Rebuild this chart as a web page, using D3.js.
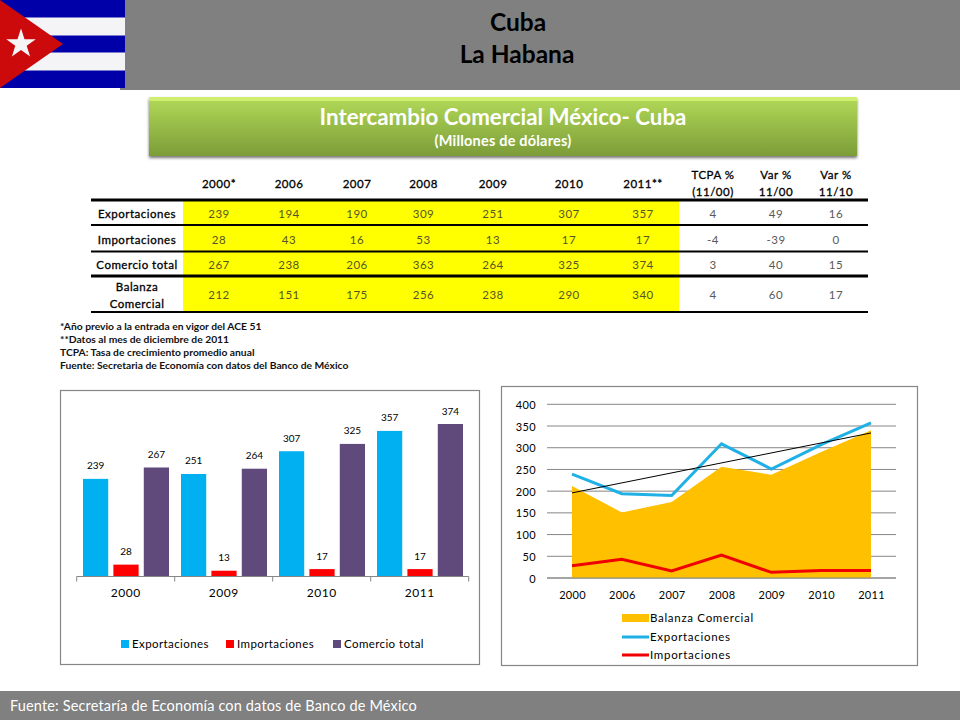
<!DOCTYPE html>
<html><head><meta charset="utf-8">
<script src="https://cdnjs.cloudflare.com/ajax/libs/d3/7.8.5/d3.min.js"></script>
<style>html,body{margin:0;padding:0;background:#fff}svg{display:block}text{font-family:Lato,"Open Sans",sans-serif}</style>
</head><body><svg id="c" width="960" height="720"></svg>
<script>
const tableHeaders = ["2000*","2006","2007","2008","2009","2010","2011**"];
const rowLabels = ["Exportaciones","Importaciones","Comercio total","Balanza|Comercial"];
const exportaciones = [239,194,190,309,251,307,357];
const importaciones = [28,43,16,53,13,17,17];
const comercioTotal = [267,238,206,363,264,325,374];
const balanza = [212,151,175,256,238,290,340];
const tcpa = [4,-4,3,4];
const var1100 = [49,-39,40,60];
const var1110 = [16,0,15,17];
const notes = ["*Año previo a la entrada en vigor del  ACE 51","**Datos  al mes de diciembre de 2011","TCPA: Tasa de crecimiento promedio anual","Fuente: Secretaria de Economía con datos del Banco de México"];
const barYears = ["2000","2009","2010","2011"];
const barExport = [239,251,307,357];
const barImport = [28,13,17,17];
const barTotal = [267,264,325,374];
const barSeries = ["Exportaciones","Importaciones","Comercio total"];
const lineYears = ["2000","2006","2007","2008","2009","2010","2011"];
const trendEnds = [196,334];
const yTicks = [0,50,100,150,200,250,300,350,400];

const svg = d3.select("#c");
const defs = svg.append("defs");
const g1 = defs.append("linearGradient").attr("id","gb").attr("x1",0).attr("x2",0).attr("y1",0).attr("y2",1);
g1.append("stop").attr("offset",0).attr("stop-color","#b2da58");
g1.append("stop").attr("offset",1).attr("stop-color","#7c9c38");
const fl = defs.append("filter").attr("id","sh").attr("x","-5%").attr("y","-20%").attr("width","110%").attr("height","140%");
fl.append("feDropShadow").attr("dx",0).attr("dy",2).attr("stdDeviation",1.6).attr("flood-color","#000").attr("flood-opacity",0.55);

// header
svg.append("rect").attr("x",120).attr("y",0).attr("width",840).attr("height",90).attr("fill","#808080");
const flag = svg.append("g");
flag.append("rect").attr("width",125).attr("height",88).attr("fill","#0000a8");
[17.5,52.5].forEach(y=>flag.append("rect").attr("y",y).attr("width",125).attr("height",18).attr("fill","#f4f4f6"));
flag.append("path").attr("d","M0,0 L63,44 L0,88 Z").attr("fill","#cc0a0c");
const star = d3.range(10).map(i=>{const r=i%2?6:15.5,a=-Math.PI/2+i*Math.PI/5;return [21+r*Math.cos(a),44+r*Math.sin(a)];});
flag.append("polygon").attr("points",star.map(p=>p.join(",")).join(" ")).attr("fill","#f6f6f6");

function T(x,y,s,o={}){const t=svg.append("text").attr("x",x).attr("y",y).attr("dy",".35em").attr("text-anchor",o.a||"middle")
 .attr("font-size",o.s||11.5).attr("font-weight",o.w||400).attr("fill",o.c||"#000").attr("letter-spacing",o.l||0).text(s);
 if(o.st)t.attr("stroke",o.c||"#000").attr("stroke-width",o.st);return t;}
T(518,22,"Cuba",{s:24.5,w:700});
T(517,54,"La Habana",{s:24.5,w:700});

// green banner
svg.append("rect").attr("x",149).attr("y",97).attr("width",708).attr("height",59).attr("fill","url(#gb)").attr("filter","url(#sh)");
svg.append("rect").attr("x",149).attr("y",97).attr("width",708).attr("height",4).attr("fill","#d0ee70");
T(503,117,"Intercambio Comercial México- Cuba",{s:22.3,w:700,c:"#fff"});
T(503,141,"(Millones de dólares)",{s:14.5,w:700,c:"#fff",l:0.2});

// table
const colX = [219,289,357,423.5,493,569,643,713,776,836];
const rowY = [214,240,265,295];
svg.append("rect").attr("x",183).attr("y",201).attr("width",496).attr("height",110).attr("fill","#ffff00");
[[200,3],[225,2],[251.5,2],[276,3],[312,2]].forEach(r=>svg.append("line").attr("x1",91).attr("x2",868).attr("y1",r[0]).attr("y2",r[0]).attr("stroke","#000").attr("stroke-width",r[1]));
const H={s:11.5,l:0.5,st:0.3};
tableHeaders.forEach((h,i)=>T(colX[i],184,h,H));
[["TCPA %","(11/00)"],["Var %","11/00"],["Var %","11/10"]].forEach((h,i)=>{T(colX[7+i],175,h[0],H);T(colX[7+i],192,h[1],H);});
rowLabels.forEach((r,i)=>{const p=r.split("|");
 if(p.length==1)T(137,rowY[i],p[0],H);else{T(137,287,p[0],H);T(137,304,p[1],H);}});
[exportaciones,importaciones,comercioTotal,balanza].forEach((row,i)=>row.forEach((v,j)=>T(colX[j],rowY[i],v,{c:"#55552a",l:0.5})));
[tcpa,var1100,var1110].forEach((col,j)=>col.forEach((v,i)=>T(colX[7+j],rowY[i],v,{c:"#595959",l:0.5})));
notes.forEach((n,i)=>T(60,[326,339,352,365][i],n,{a:"start",s:10.3,w:700,c:"#111"}));

// bar chart
svg.append("rect").attr("x",60.5).attr("y",390.5).attr("width",419).attr("height",274).attr("fill","#fff").attr("stroke","#868686").attr("stroke-width",1.2);
const bx0 = d3.scaleBand().domain(barYears).range([76.7,468.7]);
const bx1 = d3.scaleBand().domain(barSeries).range([6.3,92.3]).paddingInner(0.17);
const by = d3.scaleLinear().domain([0,374]).range([576,424]);
const barColor = d3.scaleOrdinal().domain(barSeries).range(["#00b0f0","#ff0000","#604a7b"]);
[barExport,barImport,barTotal].forEach((vals,k)=>{
 const s=barSeries[k];
 svg.append("g").selectAll("rect").data(vals).join("rect")
  .attr("x",(d,i)=>bx0(barYears[i])+bx1(s)).attr("width",bx1.bandwidth())
  .attr("y",d=>by(d)).attr("height",d=>576-by(d)).attr("fill",barColor(s));
 svg.append("g").selectAll("text").data(vals).join("text")
  .attr("x",(d,i)=>bx0(barYears[i])+bx1(s)+bx1.bandwidth()/2).attr("y",d=>by(d)-13).attr("dy",".35em")
  .attr("text-anchor","middle").attr("font-size",10).attr("fill","#000").text(d=>d);
});
const bAxis = svg.append("g").attr("transform","translate(0,576.5)").call(d3.axisBottom(bx0).tickSize(0).tickPadding(12));
bAxis.select(".domain").attr("stroke","#868686").attr("d","M76.7,0H468.7");
bAxis.selectAll("text").attr("font-size",12).attr("font-family","Lato").attr("letter-spacing",0.5).attr("fill","#000");
bAxis.selectAll(".edge").data(d3.range(5)).join("line").attr("class","edge").attr("x1",i=>76.7+i*98).attr("x2",i=>76.7+i*98).attr("y1",0).attr("y2",5).attr("stroke","#868686");
[[121,132],[226,237],[333,344]].forEach((p,i)=>{
 svg.append("rect").attr("x",p[0]).attr("y",640).attr("width",8).attr("height",8).attr("fill",barColor(barSeries[i]));
 T(p[1],644,barSeries[i],{a:"start",s:11.5,l:0.4});
});

// line chart
svg.append("rect").attr("x",501.5).attr("y",386.5).attr("width",416).attr("height",279).attr("fill","#fff").attr("stroke","#868686").attr("stroke-width",1.2);
const lx = d3.scalePoint().domain(lineYears).range([572,871]);
const ly = d3.scaleLinear().domain([0,400]).range([578,404.3]);
svg.append("g").selectAll("line").data(yTicks).join("line").attr("x1",547).attr("x2",896).attr("y1",d=>ly(d)).attr("y2",d=>ly(d)).attr("stroke","#868686").attr("stroke-width",1);
const area = d3.area().x((d,i)=>lx(lineYears[i])).y0(ly(0)).y1(d=>ly(d));
svg.append("path").datum(balanza).attr("d",area).attr("fill","#ffc000");
svg.append("line").attr("x1",547).attr("x2",896).attr("y1",ly(0)).attr("y2",ly(0)).attr("stroke","#868686").attr("stroke-width",1);
const line = d3.line().x((d,i)=>lx(lineYears[i])).y(d=>ly(d));
svg.append("path").datum(exportaciones).attr("d",line).attr("fill","none").attr("stroke","#1fb0e6").attr("stroke-width",3);
svg.append("path").datum(importaciones).attr("d",line).attr("fill","none").attr("stroke","#f00000").attr("stroke-width",3);
svg.append("line").attr("x1",lx("2000")).attr("x2",lx("2011")).attr("y1",ly(trendEnds[0])).attr("y2",ly(trendEnds[1])).attr("stroke","#000").attr("stroke-width",1);
const yA = svg.append("g").attr("transform","translate(547,0.5)").call(d3.axisLeft(ly).tickValues(yTicks).tickSize(0).tickPadding(11));
yA.select(".domain").remove();
yA.selectAll("text").attr("font-size",11).attr("font-family","Lato").attr("letter-spacing",0.4).attr("fill","#000");
const xA = svg.append("g").attr("transform","translate(0,578)").call(d3.axisBottom(lx).tickSize(0).tickPadding(13));
xA.select(".domain").remove();
xA.selectAll("text").attr("font-size",11).attr("font-family","Lato").attr("letter-spacing",0.3).attr("fill","#000");
svg.append("rect").attr("x",622).attr("y",614).attr("width",27).attr("height",8).attr("fill","#ffc000");
svg.append("line").attr("x1",622).attr("x2",649).attr("y1",637).attr("y2",637).attr("stroke","#1fb0e6").attr("stroke-width",3);
svg.append("line").attr("x1",622).attr("x2",649).attr("y1",655).attr("y2",655).attr("stroke","#f00000").attr("stroke-width",3);
T(650,618,"Balanza Comercial",{a:"start",s:11.5,l:0.7});
T(650,637,"Exportaciones",{a:"start",s:11.5,l:0.7});
T(650,655,"Importaciones",{a:"start",s:11.5,l:0.7});

// footer
svg.append("rect").attr("x",0).attr("y",691).attr("width",960).attr("height",29).attr("fill","#808080");
T(10,706,"Fuente: Secretaría de Economía con datos de Banco de México",{a:"start",s:14.5,c:"#fff",l:0.15});
</script></body></html>
